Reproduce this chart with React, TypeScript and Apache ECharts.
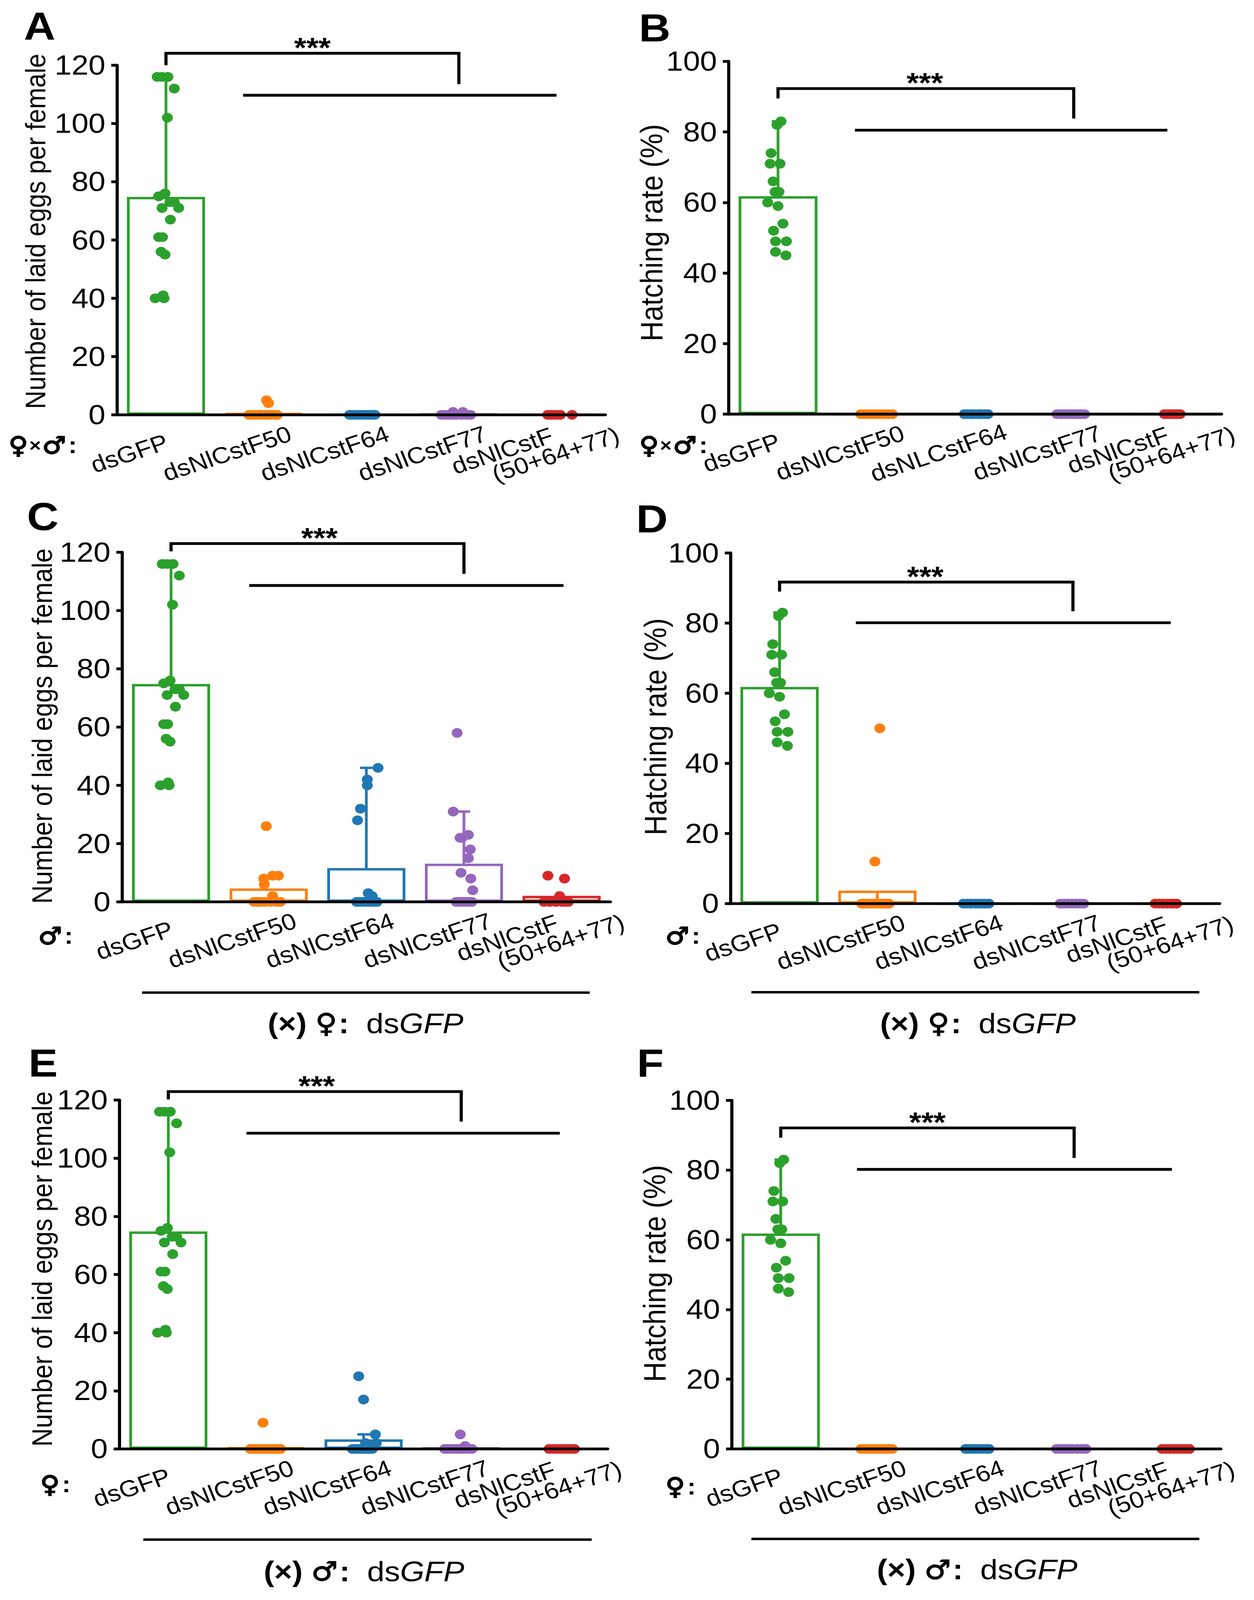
import React, { useEffect, useRef } from "react";
import * as echarts from "echarts";

const FONT = "'Liberation Sans', Arial, Helvetica, sans-serif";
const SYM = "'DejaVu Sans', 'Liberation Sans', sans-serif";

const PAGE_W = 3211;
const PAGE_H = 4586;

const groupColors = ["#2ca02c", "#ff7f0e", "#1f77b4", "#9467bd", "#d62728"];

const categories = ["dsGFP", "dsNlCstF50", "dsNlCstF64", "dsNlCstF77", "dsNlCstF\n(50+64+77)"];
const categoriesB = ["dsGFP", "dsNlCstF50", "dsNLCstF64", "dsNlCstF77", "dsNlCstF\n(50+64+77)"];

const eggAxis = [0, 120, 20];
const hatchAxis = [0, 100, 20];

const eggTitle = "Number of laid eggs per female";
const hatchTitle = "Hatching rate (%)";

const gfpEggs = [116, 116, 116, 112, 102, 76, 75, 73, 73, 71, 71, 67, 61, 61, 56, 55, 41, 40, 40];
const gfpEggsJitter = [-0.09, -0.04, 0.02, 0.085, 0.015, -0.01, -0.075, 0.04, 0.085, -0.04, 0.13, 0.045, -0.075, -0.035, -0.05, -0.01, -0.03, -0.11, -0.02];
const gfpHatch = [83, 82, 74, 71, 71, 66, 63, 63, 60, 59, 54, 52, 49, 49, 46, 45];
const gfpHatchJitter = [0.03, -0.01, -0.07, -0.08, 0.02, -0.05, -0.03, 0.01, -0.105, 0, 0.05, -0.045, -0.025, 0.085, -0.025, 0.08];

const A_values = [gfpEggs, [5, 4, 0, 0, 0, 0, 0, 0, 0, 0, 0, 0, 0], [0, 0, 0, 0, 0, 0, 0, 0, 0, 0], [1, 1, 0, 0, 0, 0, 0, 0, 0, 0], [0, 0, 0, 0, 0, 0]];
const A_jitter = [gfpEggsJitter, [0.03, 0.05, -0.15, -0.11, -0.08, -0.04, 0, 0.04, 0.08, 0.12, 0.14, -0.13, 0.02], [-0.12, -0.09, -0.06, -0.02, 0.01, 0.04, 0.07, 0.1, 0.12, 0.14], [-0.06, 0.04, -0.18, -0.14, -0.1, -0.06, -0.02, 0.03, 0.08, 0.12], [-0.09, -0.06, -0.03, 0.01, 0.04, 0.16]];
const A_means = [74.8, 0.6, 0, 0.3, 0];
const A_errors = [[0, 74.8, 116, 1]];
const A_bracket = [0, 3, 124.1, 120, 113.5, 0.79, 4.0, 109.7, 1.5];

const B_values = [gfpHatch, [0, 0, 0, 0, 0, 0, 0, 0, 0], [0, 0, 0, 0, 0, 0, 0, 0], [0, 0, 0, 0, 0, 0, 0, 0], [0, 0, 0, 0, 0, 0]];
const B_jitter = [gfpHatchJitter, [-0.16, -0.12, -0.08, -0.04, 0, 0.04, 0.08, 0.12, 0.16], [-0.11, -0.08, -0.04, -0.01, 0.03, 0.06, 0.1, 0.13], [-0.17, -0.13, -0.09, -0.05, -0.01, 0.03, 0.07, 0.11], [-0.08, -0.05, -0.02, 0.02, 0.05, 0.08]];
const B_means = [61.8, 0, 0, 0, 0];
const B_errors = [[0, 61.8, 83, 1]];
const B_bracket = [0, 3, 92.3, 89.5, 83.8, 0.78, 3.95, 80.5, 1.49];

const C_values = [gfpEggs, [26, 9, 9, 8, 6, 2, 0, 0, 0, 0, 0, 0, 0], [46, 42, 40, 32, 28, 3, 2, 0, 0, 0, 0, 0, 0, 0, 0, 0, 0], [58, 31, 23, 22, 22, 18, 15, 10, 8, 4, 0, 0, 0, 0, 0, 0], [9, 8, 2, 0, 0, 0, 0, 0, 0]];
const C_jitter = [gfpEggsJitter, [-0.025, 0.04, 0.1, -0.05, -0.045, 0.04, -0.15, -0.12, -0.09, -0.04, 0.02, 0.08, 0.12], [0.12, 0.01, 0.01, -0.06, -0.09, 0.02, 0.06, -0.08, -0.05, -0.03, 0, 0.02, 0.04, 0.07, 0.09, 0.11, -0.1], [-0.07, -0.11, 0.045, -0.02, -0.04, 0.065, 0.045, -0.03, 0.07, 0.09, -0.08, -0.05, -0.02, 0.02, 0.05, 0.08], [-0.14, 0.03, -0.02, -0.18, -0.12, -0.06, 0, 0.04, 0.07]];
const C_means = [74.8, 4.6, 11.6, 13.1, 2.1];
const C_errors = [[0, 74.8, 116, 1], [2, 11.6, 46, 1], [3, 13.1, 31, 1]];
const C_bracket = [0, 3, 123, 120.3, 112.6, 0.8, 4.02, 108.6, 1.52];

const D_values = [gfpHatch, [50, 12, 0, 0, 0, 0, 0, 0, 0, 0, 0, 0, 0, 0, 0, 0, 0], [0, 0, 0, 0, 0, 0, 0, 0], [0, 0, 0, 0, 0, 0, 0], [0, 0, 0, 0, 0, 0, 0]];
const D_jitter = [gfpHatchJitter, [0.025, -0.025, -0.16, -0.13, -0.11, -0.08, -0.06, -0.03, -0.01, 0.02, 0.04, 0.06, 0.09, 0.11, 0.12, -0.14, 0.07], [-0.12, -0.08, -0.04, 0, 0.03, 0.07, 0.1, 0.14], [-0.13, -0.09, -0.05, -0.01, 0.03, 0.07, 0.11], [-0.16, -0.12, -0.08, -0.04, 0, 0.03, 0.06]];
const D_means = [61.8, 3.7, 0, 0, 0];
const D_errors = [[0, 61.8, 83, 1], [1, 0, 3.7, 0]];
const D_bracket = [0, 3, 91.7, 89, 83.4, 0.78, 4.0, 80.1, 1.49];

const E_values = [gfpEggs, [9, 0, 0, 0, 0, 0, 0, 0, 0, 0, 0, 0, 0, 0, 0, 0, 0, 0], [25, 17, 5, 2, 2, 0, 0, 0, 0, 0, 0, 0, 0, 0, 0], [5, 1, 0, 0, 0, 0, 0, 0, 0, 0, 0, 0], [0, 0, 0, 0, 0, 0, 0, 0]];
const E_jitter = [gfpEggsJitter, [-0.03, -0.16, -0.14, -0.12, -0.1, -0.08, -0.06, -0.04, -0.02, 0, 0.02, 0.04, 0.06, 0.08, 0.1, 0.12, 0.14, 0.15], [-0.05, 0, 0.12, 0.02, 0.13, -0.115, -0.09, -0.07, -0.04, -0.02, 0.01, 0.03, 0.05, 0.07, 0.09], [-0.01, 0.04, -0.17, -0.14, -0.11, -0.08, -0.05, -0.02, 0.01, 0.05, 0.08, 0.11], [-0.1, -0.06, -0.02, 0.02, 0.06, 0.1, 0.13, 0.16]];
const E_means = [74.8, 0.5, 3.3, 0.4, 0];
const E_errors = [[0, 74.8, 116, 1], [2, 3.3, 5, 1]];
const E_bracket = [0, 3, 122.9, 120.2, 112.6, 0.8, 4.01, 108.6, 1.52];

const F_values = [gfpHatch, [0, 0, 0, 0, 0, 0, 0, 0, 0], [0, 0, 0, 0, 0, 0, 0, 0], [0, 0, 0, 0, 0, 0, 0, 0], [0, 0, 0, 0, 0, 0, 0, 0]];
const F_jitter = [gfpHatchJitter, [-0.18, -0.14, -0.1, -0.06, -0.02, 0.02, 0.06, 0.1, 0.14], [-0.11, -0.08, -0.04, -0.01, 0.03, 0.06, 0.1, 0.13], [-0.18, -0.14, -0.1, -0.06, -0.02, 0.03, 0.08, 0.12], [-0.1, -0.06, -0.02, 0.02, 0.06, 0.1, 0.14, 0.18]];
const F_means = [61.8, 0, 0, 0, 0];
const F_errors = [[0, 61.8, 83, 1]];
const F_bracket = [0, 3, 92.1, 89.3, 83.5, 0.78, 4.0, 80.2, 1.5];

const panels = [
  { letter: "A", cats: categories, axis: eggAxis, title: eggTitle, row: ["♀", "×", "♂"], caption: "", values: A_values, jitter: A_jitter, means: A_means, errors: A_errors, bracket: A_bracket },
  { letter: "B", cats: categoriesB, axis: hatchAxis, title: hatchTitle, row: ["♀", "×", "♂"], caption: "", values: B_values, jitter: B_jitter, means: B_means, errors: B_errors, bracket: B_bracket },
  { letter: "C", cats: categories, axis: eggAxis, title: eggTitle, row: ["♂"], caption: "♀", values: C_values, jitter: C_jitter, means: C_means, errors: C_errors, bracket: C_bracket },
  { letter: "D", cats: categories, axis: hatchAxis, title: hatchTitle, row: ["♂"], caption: "♀", values: D_values, jitter: D_jitter, means: D_means, errors: D_errors, bracket: D_bracket },
  { letter: "E", cats: categories, axis: eggAxis, title: eggTitle, row: ["♀"], caption: "♂", values: E_values, jitter: E_jitter, means: E_means, errors: E_errors, bracket: E_bracket },
  { letter: "F", cats: categories, axis: hatchAxis, title: hatchTitle, row: ["♀"], caption: "♂", values: F_values, jitter: F_jitter, means: F_means, errors: F_errors, bracket: F_bracket },
];

const layout = [
  { grid: [300, 187, 1250, 1002], letter: [61, 76], title: [91, 663, 73], row: [22, 1276], line: null, caption: null },
  { grid: [1866, 176, 1262, 1011], letter: [1636, 80], title: [1668, 667, 80], row: [1637, 1276], line: null, caption: null },
  { grid: [313, 1583, 1250, 1002], letter: [69, 1481], title: [108, 2081, 73], row: [98, 2682], line: [364, 1510, 2845], caption: [936, 2933] },
  { grid: [1871, 1585, 1252, 1005], letter: [1629, 1487], title: [1678, 2083, 80], row: [1704, 2682], line: [1924, 3071, 2844], caption: [2504, 2933] },
  { grid: [306, 3153, 1250, 1000], letter: [73, 3047], title: [108, 3637, 73], row: [103, 4254], line: [367, 1515, 4413], caption: [932, 4504] },
  { grid: [1874, 3154, 1252, 999], letter: [1631, 3047], title: [1676, 3650, 80], row: [1704, 4260], line: [1924, 3071, 4411], caption: [2502, 4499] },
];

const errRender = (params: any, api: any) => {
  const g = api.value(0);
  const lo = api.value(1);
  const hi = api.value(2);
  const cap = api.value(3);
  const color = groupColors[g];
  const p1 = api.coord([g, lo]);
  const p2 = api.coord([g, hi]);
  const children: any[] = [
    { type: "line", shape: { x1: p1[0], y1: p1[1], x2: p2[0], y2: p2[1] }, style: { stroke: color, lineWidth: 7 } },
  ];
  if (cap) {
    children.push({ type: "line", shape: { x1: p2[0] - 16, y1: p2[1], x2: p2[0] + 16, y2: p2[1] }, style: { stroke: color, lineWidth: 7 } });
  }
  return { type: "group", children };
};

const bracketRender = (params: any, api: any) => {
  const f = api.value(0), t = api.value(1), top = api.value(2), le = api.value(3), re = api.value(4);
  const lf = api.value(5), lt = api.value(6), ly = api.value(7), sx = api.value(8);
  const a = api.coord([f, le]);
  const b = api.coord([f, top]);
  const c = api.coord([t, top]);
  const d = api.coord([t, re]);
  const l1 = api.coord([lf, ly]);
  const l2 = api.coord([lt, ly]);
  const s = api.coord([sx, top]);
  return {
    type: "group",
    children: [
      { type: "polyline", shape: { points: [a, b, c, d] }, style: { stroke: "#000", lineWidth: 8, fill: "none" } },
      { type: "line", shape: { x1: l1[0], y1: l1[1], x2: l2[0], y2: l2[1] }, style: { stroke: "#000", lineWidth: 8 } },
      {
        type: "text",
        x: s[0],
        y: s[1] - 16,
        style: { text: "***", fontSize: 80, fontWeight: "bold", fontFamily: FONT, fill: "#000", align: "center", verticalAlign: "middle" },
      },
    ],
  };
};

function rowText(parts: string[]) {
  if (parts.length === 3) return "{s|" + parts[0] + "}{x|" + parts[1] + "}{s|" + parts[2] + "}{c|:}";
  return "{s|" + parts[0] + "}{c|:}";
}

const rowRich = {
  s: { fontSize: 68, fontWeight: "bold", fontFamily: SYM, fill: "#000", stroke: "#000", lineWidth: 3 },
  x: { fontSize: 52, fontWeight: "bold", fontFamily: FONT, fill: "#000", padding: [0, 3, 0, 3] },
  c: { fontSize: 66, fontWeight: "bold", fontFamily: FONT, fill: "#000", padding: [0, 0, 0, 6] },
};

function buildOption() {
  const grid: any[] = [];
  const xAxis: any[] = [];
  const yAxis: any[] = [];
  const series: any[] = [];
  const elements: any[] = [];

  panels.forEach((p, i) => {
    const L = layout[i];
    grid.push({ left: L.grid[0], top: L.grid[1], width: L.grid[2], height: L.grid[3], containLabel: false, outerBoundsMode: "none" });
    xAxis.push({
      gridIndex: i,
      type: "category",
      data: p.cats,
      boundaryGap: true,
      z: 10,
      axisLine: { onZero: false, lineStyle: { color: "#000", width: 8 } },
      axisTick: { alignWithLabel: true, length: 16, lineStyle: { color: "#000", width: 8 } },
      splitLine: { show: false },
      axisLabel: {
        interval: 0,
        rotate: 20,
        margin: 76,
        align: "center",
        verticalAlign: "middle",
        padding: [0, 200, 0, 0],
        fontSize: 66,
        fontFamily: FONT,
        color: "#000",
        formatter: (v: string) => {
          if (v.indexOf("\n") >= 0) {
            const parts = v.split("\n");
            return "{m1|" + parts[0] + "}\n{m2|" + parts[1] + "}";
          }
          return v;
        },
        rich: {
          m1: { fontSize: 66, fontFamily: FONT, color: "#000", align: "center", lineHeight: 68, padding: [23, 80, 0, 0] },
          m2: { fontSize: 66, fontFamily: FONT, color: "#000", align: "center", lineHeight: 68, padding: [0, 0, 0, 170] },
        },
      },
    });
    xAxis.push({ gridIndex: i, type: "value", min: -0.5, max: 4.5, show: false });
    yAxis.push({
      gridIndex: i,
      type: "value",
      min: p.axis[0],
      max: p.axis[1],
      interval: p.axis[2],
      z: 10,
      axisLine: { show: true, onZero: false, lineStyle: { color: "#000", width: 8 } },
      axisTick: { show: true, length: 15, lineStyle: { color: "#000", width: 8 } },
      axisLabel: { fontSize: 78, fontFamily: FONT, color: "#000", margin: 30 },
      splitLine: { show: false },
    });

    series.push({
      type: "bar",
      xAxisIndex: 2 * i,
      yAxisIndex: i,
      barWidth: "80%",
      silent: true,
      z: 1,
      itemStyle: { color: "rgba(255,255,255,0)", borderWidth: 7 },
      data: p.means.map((v, j) => ({ value: v, itemStyle: { borderColor: groupColors[j] } })),
    });
    series.push({
      type: "custom",
      xAxisIndex: 2 * i + 1,
      yAxisIndex: i,
      z: 2,
      silent: true,
      data: p.errors,
      renderItem: errRender,
    });
    p.values.forEach((vals, j) => {
      series.push({
        type: "scatter",
        xAxisIndex: 2 * i + 1,
        yAxisIndex: i,
        symbol: "circle",
        symbolSize: 28,
        clip: false,
        silent: true,
        z: 3,
        itemStyle: { color: groupColors[j], opacity: 1 },
        data: vals.map((v, k) => [j + p.jitter[j][k], v]),
      });
    });
    series.push({
      type: "custom",
      xAxisIndex: 2 * i + 1,
      yAxisIndex: i,
      z: 4,
      silent: true,
      data: [p.bracket],
      renderItem: bracketRender,
    });

    elements.push({
      type: "text",
      x: L.letter[0],
      y: L.letter[1],
      style: { text: p.letter, fontSize: 112, fontWeight: "bold", fontFamily: FONT, fill: "#000", align: "left", verticalAlign: "middle" },
    });
    elements.push({
      type: "text",
      x: L.title[0],
      y: L.title[1],
      rotation: Math.PI / 2,
      style: { text: p.title, fontSize: L.title[2], fontFamily: FONT, fill: "#000", align: "center", verticalAlign: "middle" },
    });
    elements.push({
      type: "text",
      x: L.row[0],
      y: L.row[1],
      style: { text: rowText(p.row), rich: rowRich, align: "left", verticalAlign: "middle", fontSize: 66, fontFamily: FONT, fill: "#000" },
    });
    if (L.line && L.caption) {
      elements.push({
        type: "line",
        shape: { x1: L.line[0], y1: L.line[2], x2: L.line[1], y2: L.line[2] },
        style: { stroke: "#000", lineWidth: 7 },
      });
      elements.push({
        type: "text",
        x: L.caption[0],
        y: L.caption[1],
        style: {
          text: "{b|(×)}{s|" + p.caption + "}{b|:}{r|ds}{i|GFP}",
          align: "center",
          verticalAlign: "middle",
          fontSize: 80,
          fontFamily: FONT,
          fill: "#000",
          rich: {
            b: { fontSize: 80, fontWeight: "bold", fontFamily: FONT, fill: "#000" },
            s: { fontSize: 76, fontWeight: "bold", fontFamily: SYM, fill: "#000", stroke: "#000", lineWidth: 2, padding: [0, 4, 0, 22] },
            r: { fontSize: 80, fontFamily: FONT, fill: "#000", padding: [0, 0, 0, 44] },
            i: { fontSize: 80, fontStyle: "italic", fontFamily: FONT, fill: "#000" },
          },
        },
      });
    }
  });

  return {
    animation: false,
    backgroundColor: "#fff",
    grid,
    xAxis,
    yAxis,
    series,
    graphic: { elements },
  };
}

export default function App() {
  const ref = useRef<HTMLDivElement>(null);
  // the photographed viewport can be shorter than the requested page; fit the figure into it
  const vh = typeof window !== "undefined" && window.innerHeight ? window.innerHeight : PAGE_H;
  const ky = Math.min(1, vh / PAGE_H);
  useEffect(() => {
    if (!ref.current) return;
    const chart = echarts.init(ref.current, undefined, { renderer: "svg" });
    chart.setOption(buildOption() as any);
    return () => chart.dispose();
  }, []);
  return (
    <div
      style={{ position: "absolute", left: 0, top: 0, width: PAGE_W, height: Math.round(PAGE_H * ky), overflow: "hidden", background: "#fff" }}
    >
      <div
        ref={ref}
        style={{
          position: "absolute",
          left: 0,
          top: 0,
          width: PAGE_W,
          height: PAGE_H,
          transformOrigin: "0 0",
          transform: "scale(1, " + ky + ")",
          background: "#fff",
        }}
      />
    </div>
  );
}
